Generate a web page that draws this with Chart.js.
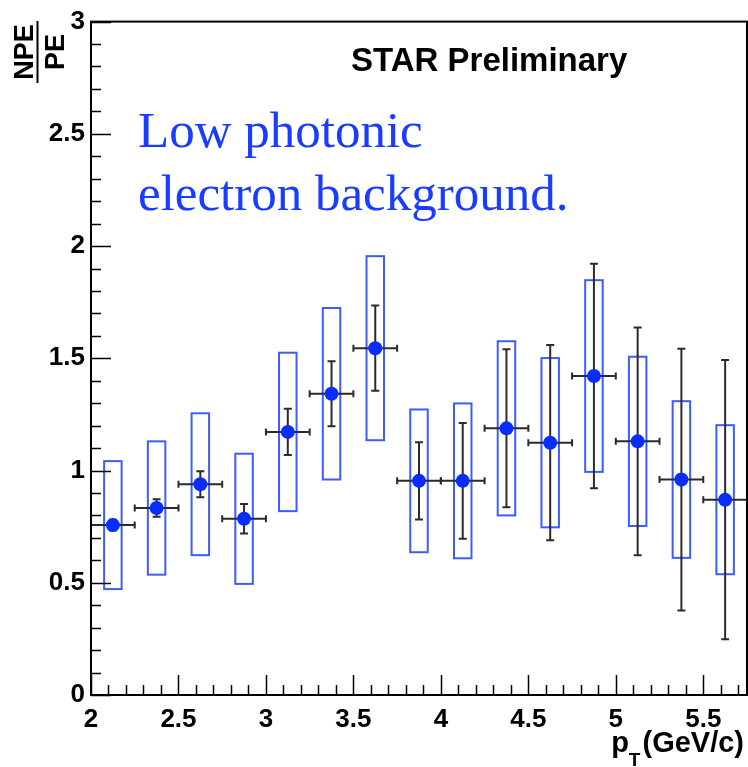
<!DOCTYPE html>
<html>
<head>
<meta charset="utf-8">
<script src="https://cdn.jsdelivr.net/npm/chart.js@4.4.1/dist/chart.umd.min.js"></script>
<style>
  html, body { margin: 0; padding: 0; background: #fff; }
  canvas { display: block; }
</style>
</head>
<body>
<canvas id="npe-chart" width="748" height="767"></canvas>
<script>
// pT bin centres (GeV/c) and half bin width
const ptBins = [2.125, 2.375, 2.625, 2.875, 3.125, 3.375, 3.625, 3.875,
                4.125, 4.375, 4.625, 4.875, 5.125, 5.375, 5.625];
const ptErr = 0.125;

// NPE/PE ratio with statistical and systematic errors
const npeRatio = [0.757, 0.833, 0.939, 0.785, 1.172, 1.342, 1.545, 0.954,
                  0.954, 1.188, 1.124, 1.421, 1.130, 0.960, 0.870];
const statErr = [0.024, 0.039, 0.058, 0.066, 0.103, 0.145, 0.190, 0.172,
                 0.258, 0.352, 0.435, 0.500, 0.507, 0.583, 0.622];
const sysErr = [0.285, 0.297, 0.316, 0.290, 0.353, 0.382, 0.410, 0.318,
                0.345, 0.388, 0.377, 0.427, 0.377, 0.349, 0.332];

// axis labels
const xTickValues = [2, 2.5, 3, 3.5, 4, 4.5, 5, 5.5];
const xTickLabels = ["2", "2.5", "3", "3.5", "4", "4.5", "5", "5.5"];
const yTickValues = [0, 0.5, 1, 1.5, 2, 2.5, 3];
const yTickLabels = ["0", "0.5", "1", "1.5", "2", "2.5", "3"];

const markerColor = "#0a2dff";
const boxColor = "#3d5cff";
const errColor = "#2b2b2b";
const boxHalfWidth = 0.05;

// systematic boxes + stat error bars, drawn under the markers
const errorPlugin = {
  id: "errors",
  beforeDatasetsDraw(chart) {
    const ctx = chart.ctx;
    const xs = chart.scales.x;
    const ys = chart.scales.y;
    ctx.save();
    ctx.lineWidth = 2;
    ctx.strokeStyle = boxColor;
    ptBins.forEach((pt, i) => {
      const x0 = xs.getPixelForValue(pt - boxHalfWidth);
      const x1 = xs.getPixelForValue(pt + boxHalfWidth);
      const y0 = ys.getPixelForValue(npeRatio[i] + sysErr[i]);
      const y1 = ys.getPixelForValue(npeRatio[i] - sysErr[i]);
      ctx.strokeRect(x0, y0, x1 - x0, y1 - y0);
    });
    ctx.strokeStyle = errColor;
    ptBins.forEach((pt, i) => {
      const xc = xs.getPixelForValue(pt);
      const xl = xs.getPixelForValue(pt - ptErr);
      const xr = xs.getPixelForValue(pt + ptErr);
      const yc = ys.getPixelForValue(npeRatio[i]);
      const yt = ys.getPixelForValue(npeRatio[i] + statErr[i]);
      const yb = ys.getPixelForValue(npeRatio[i] - statErr[i]);
      ctx.beginPath();
      ctx.moveTo(xl, yc); ctx.lineTo(xr, yc);
      ctx.moveTo(xl, yc - 3.5); ctx.lineTo(xl, yc + 3.5);
      ctx.moveTo(xr, yc - 3.5); ctx.lineTo(xr, yc + 3.5);
      ctx.moveTo(xc, yt); ctx.lineTo(xc, yb);
      ctx.moveTo(xc - 4, yt); ctx.lineTo(xc + 4, yt);
      ctx.moveTo(xc - 4, yb); ctx.lineTo(xc + 4, yb);
      ctx.stroke();
    });
    ctx.restore();
  },
};

// frame, inward ticks and text
const framePlugin = {
  id: "frame",
  afterDraw(chart) {
    const ctx = chart.ctx;
    const a = chart.chartArea;
    const xs = chart.scales.x;
    const ys = chart.scales.y;
    ctx.save();
    ctx.strokeStyle = "#000";
    ctx.lineWidth = 2;
    ctx.strokeRect(a.left, a.top, a.right - a.left, a.bottom - a.top);

    ctx.beginPath();
    for (let i = 20; i <= 57; i++) {
      const x = Math.round(xs.getPixelForValue(i / 10)) + 0.5;
      const len = i % 5 === 0 ? 20 : 10;
      ctx.moveTo(x, a.bottom); ctx.lineTo(x, a.bottom - len);
    }
    for (let i = 0; i <= 30; i++) {
      const y = Math.round(ys.getPixelForValue(i / 10)) + 0.5;
      const len = i % 5 === 0 ? 20 : 10;
      ctx.moveTo(a.left, y); ctx.lineTo(a.left + len, y);
    }
    ctx.lineWidth = 1.5;
    ctx.stroke();

    // STAR label
    ctx.fillStyle = "#000";
    ctx.font = "bold 33px 'Liberation Sans', Arial, sans-serif";
    ctx.textAlign = "left";
    ctx.textBaseline = "alphabetic";
    ctx.fillText("STAR Preliminary", 351, 71);

    // annotation
    ctx.fillStyle = "#1a3cff";
    ctx.font = "51px 'Liberation Serif', 'Times New Roman', serif";
    ctx.fillText("Low photonic", 138, 147);
    ctx.fillText("electron background.", 138, 210);

    // x title: p_T(GeV/c)
    ctx.fillStyle = "#000";
    ctx.font = "bold 29px 'Liberation Sans', Arial, sans-serif";
    const paren = "(GeV/c)";
    const right = 744;
    const wParen = ctx.measureText(paren).width;
    ctx.fillText(paren, right - wParen, 752);
    ctx.font = "bold 19px 'Liberation Sans', Arial, sans-serif";
    const wT = ctx.measureText("T").width;
    const tX = right - wParen - wT - 2;
    ctx.fillText("T", tX, 766);
    ctx.font = "bold 29px 'Liberation Sans', Arial, sans-serif";
    const wP = ctx.measureText("p").width;
    ctx.fillText("p", tX - wP, 752);

    // y title: NPE / PE
    ctx.translate(37, 52);
    ctx.rotate(-Math.PI / 2);
    ctx.textAlign = "center";
    ctx.font = "bold 27px 'Liberation Sans', Arial, sans-serif";
    ctx.fillText("NPE", 0, -4);
    ctx.fillText("PE", 0, 27);
    ctx.beginPath();
    ctx.moveTo(-31, 0.5); ctx.lineTo(31, 0.5);
    ctx.lineWidth = 2;
    ctx.stroke();
    ctx.restore();
  },
};

new Chart(document.getElementById("npe-chart"), {
  type: "scatter",
  data: {
    datasets: [{
      data: ptBins.map((pt, i) => ({ x: pt, y: npeRatio[i] })),
      backgroundColor: markerColor,
      borderWidth: 0,
      pointRadius: 7,
    }],
  },
  options: {
    responsive: false,
    animation: false,
    devicePixelRatio: 1,
    layout: { autoPadding: false, padding: { top: 20, right: 1, left: 0, bottom: 0 } },
    plugins: { legend: { display: false }, tooltip: { enabled: false } },
    scales: {
      x: {
        type: "linear",
        min: 2,
        max: 5.75,
        afterFit: (s) => { s.height = 72; s.paddingLeft = 0; s.paddingRight = 0; },
        afterBuildTicks: (s) => { s.ticks = xTickValues.map((v) => ({ value: v })); },
        grid: { display: false, drawTicks: false },
        border: { display: false },
        ticks: {
          padding: 9,
          color: "#000",
          font: { family: "'Liberation Sans', Arial, sans-serif", size: 26, weight: "bold" },
          maxRotation: 0,
          callback: (v) => xTickLabels[xTickValues.indexOf(v)],
        },
      },
      y: {
        min: 0,
        max: 3,
        afterFit: (s) => { s.width = 91; },
        afterBuildTicks: (s) => { s.ticks = yTickValues.map((v) => ({ value: v })); },
        grid: { display: false, drawTicks: false },
        border: { display: false },
        ticks: {
          padding: 6,
          color: "#000",
          font: { family: "'Liberation Sans', Arial, sans-serif", size: 26, weight: "bold" },
          callback: (v) => yTickLabels[yTickValues.indexOf(v)],
        },
      },
    },
  },
  plugins: [errorPlugin, framePlugin],
});
</script>
</body>
</html>
